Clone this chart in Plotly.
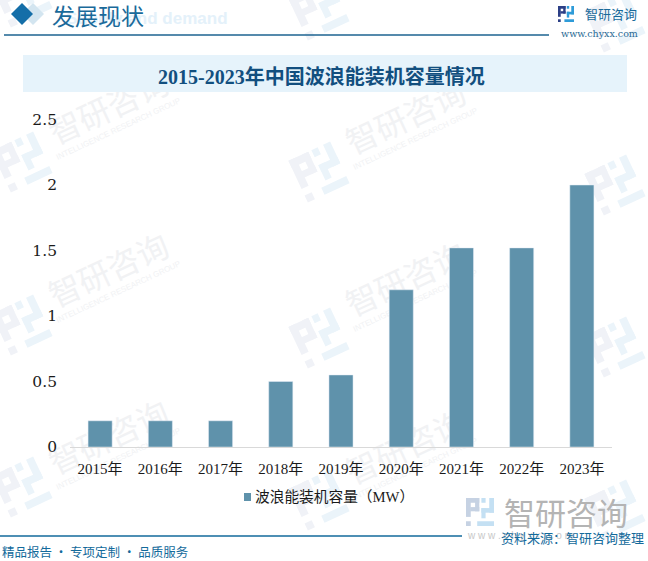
import plotly.graph_objects as go
import math

W, H = 648, 561
years = ["2015年", "2016年", "2017年", "2018年", "2019年", "2020年", "2021年", "2022年", "2023年"]
capacity = [0.2, 0.2, 0.2, 0.5, 0.55, 1.2, 1.52, 1.52, 2.0]
y_ticks = [0, 0.5, 1, 1.5, 2, 2.5]
y_labels = ["0", "0.5", "1", "1.5", "2", "2.5"]
series_name = "波浪能装机容量（MW）"
title = "2015-2023年中国波浪能装机容量情况"

SERIF = "Liberation Serif, Noto Sans CJK SC"
CJK = "Noto Sans CJK SC"
BLUE = "#1a6a9a"


def px(x):
    return x / W


def py(y):
    return 1 - y / H


shapes, annotations = [], []


def rect(x0, y0, x1, y1, color):
    shapes.append(dict(type="rect", xref="paper", yref="paper", x0=px(x0), x1=px(x1),
                       y0=py(y1), y1=py(y0), fillcolor=color, line_width=0, layer="below"))


def line(x0, y0, x1, y1, color, width=1.2):
    shapes.append(dict(type="line", xref="paper", yref="paper", x0=px(x0), x1=px(x1),
                       y0=py(y0), y1=py(y1), line=dict(color=color, width=width), layer="below"))


def poly(pts, color):
    d = "M" + " L".join(f"{px(a):.5f},{py(b):.5f}" for a, b in pts) + " Z"
    shapes.append(dict(type="path", xref="paper", yref="paper", path=d, fillcolor=color, line_width=0, layer="below"))


def under_text(x, y, s, size, color, font=CJK, angle=0):
    """Text drawn beneath the bars, as the label of an invisible shape."""
    shapes.append(dict(type="rect", xref="paper", yref="paper", x0=px(x - 1), x1=px(x + 1),
                       y0=py(y + 1), y1=py(y - 1), line_width=0, fillcolor="rgba(0,0,0,0)", layer="below",
                       label=dict(text=s, textangle=angle, textposition="middle center",
                                  font=dict(size=size, color=color, family=font))))


def text(x, y, s, size, color, font=CJK, anchor="center", bold=False):
    if bold:
        s = f"<b>{s}</b>"
    annotations.append(dict(xref="paper", yref="paper", x=px(x), y=py(y), text=s, showarrow=False,
                            font=dict(size=size, color=color, family=font), xanchor=anchor, yanchor="middle"))


def logo(cx, cy, s, c1, c2, angle=0.0):
    """Bracket-style brand mark built of small bars, s = half size."""
    ca, sa = math.cos(math.radians(angle)), math.sin(math.radians(angle))

    def bar(a, b, c, d, color):
        pts = [(a, b), (c, b), (c, d), (a, d)]
        poly([(cx + s * (p * ca - q * sa), cy + s * (p * sa + q * ca)) for p, q in pts], color)

    bar(-1, -1, -0.05, -0.66, c1)
    bar(-1, -1, -0.66, 0.35, c1)
    bar(-0.35, -1, -0.05, -0.05, c1)
    bar(-0.7, -0.35, -0.05, -0.05, c1)
    bar(-1, 0.66, -0.66, 1, c1)
    bar(0.1, -1, 0.4, -0.66, c2)
    bar(0.66, -1, 1, 0.05, c2)
    bar(0.1, -0.28, 1, 0.05, c2)
    bar(0.1, -0.28, 0.4, 0.45, c2)
    bar(-0.2, 0.66, 1, 1, c2)


# Background watermark
for (lx, ly) in [(22, -3), (319, 10), (615, 22), (22, 162), (319, 172), (615, 185),
                 (22, 325), (319, 338), (615, 347), (22, 487), (319, 500), (615, 510)]:
    logo(lx, ly, 23, "#f0f2f7", "#ebf4fa", -25)
for (tx, ty) in [(110, 110), (407, 120), (110, 273), (407, 282), (110, 440), (407, 450)]:
    under_text(tx, ty, "智研咨询", 32, "#f1f2f4", angle=-25)
    under_text(tx + 8, ty + 18, "INTELLIGENCE RESEARCH GROUP", 8, "#f1f2f4", font="Liberation Sans", angle=-25)

# Header
poly([(33, 3), (44, 14), (33, 25), (22, 14)], "#d3e5f0")
poly([(22, 3), (33, 14), (22, 25), (11, 14)], "#146ea8")
text(230, 18, "Supply and demand", 17, "#e4f1fa", font="Liberation Sans", anchor="right", bold=True)
text(50, 15, "发展现状", 23, BLUE, anchor="left")
line(4, 35, 549, 35, "#1c6390", 1.3)
logo(566, 14, 8, "#2c3f86", "#2e9bd8")
text(583, 14, "智研咨询", 13, BLUE, anchor="left")
text(559, 34, "www.chyxx.com", 9.5, "#2a6a94", font="DejaVu Serif", anchor="left")

# Title band
rect(23, 55, 627, 92, "#e6f3fb")
text(321, 76, title, 20, "#124f7f", font=SERIF, bold=True)

# Legend
rect(244, 493, 251, 501, "#5f92ab")
text(253, 497, series_name, 14.7, "#1a1a1a", font=SERIF, anchor="left")

# Footer
line(0, 536, 462, 536, "#136a9b", 1.3)
logo(480, 512, 14, "#c6d2e3", "#c4e0f3")
text(502, 512, "智研咨询", 31, "#b4b4b4", anchor="left")
text(465, 535, "w w w . c h y x x . c o m", 10, "#c8c8c8", font="Liberation Sans", anchor="left")
text(499, 537, "资料来源：智研咨询整理", 13, "#136a9b", anchor="left")
text(0, 551, "精品报告 · 专项定制 · 品质服务", 12.5, "#136a9b", anchor="left")

fig = go.Figure(go.Bar(x=years, y=capacity, name=series_name, marker_color="#5f92ab", width=0.4, showlegend=False))

fig.update_layout(
    width=W, height=H, margin=dict(l=0, r=0, t=0, b=0, autoexpand=False),
    paper_bgcolor="white", plot_bgcolor="rgba(0,0,0,0)", bargap=0.6,
    shapes=shapes, annotations=annotations, showlegend=False,
    font=dict(family=SERIF, size=15, color="#1a1a1a"),
    xaxis=dict(domain=[px(70), px(612)], anchor="y", showgrid=False, ticks="", ticklabelstandoff=8,
               showline=True, linecolor="#d9d9d9", tickfont=dict(size=15, family=SERIF)),
    yaxis=dict(domain=[py(447), py(119.5)], range=[0, 2.5], tickmode="array", tickvals=y_ticks, ticktext=y_labels,
               showgrid=False, zeroline=False, ticks="", showline=False, ticklabelstandoff=12,
               tickfont=dict(size=15.5, family="DejaVu Serif, Liberation Serif")),
)
fig.write_html("out.html", post_script="document.body.style.margin='0';", config=dict(displayModeBar=False))
